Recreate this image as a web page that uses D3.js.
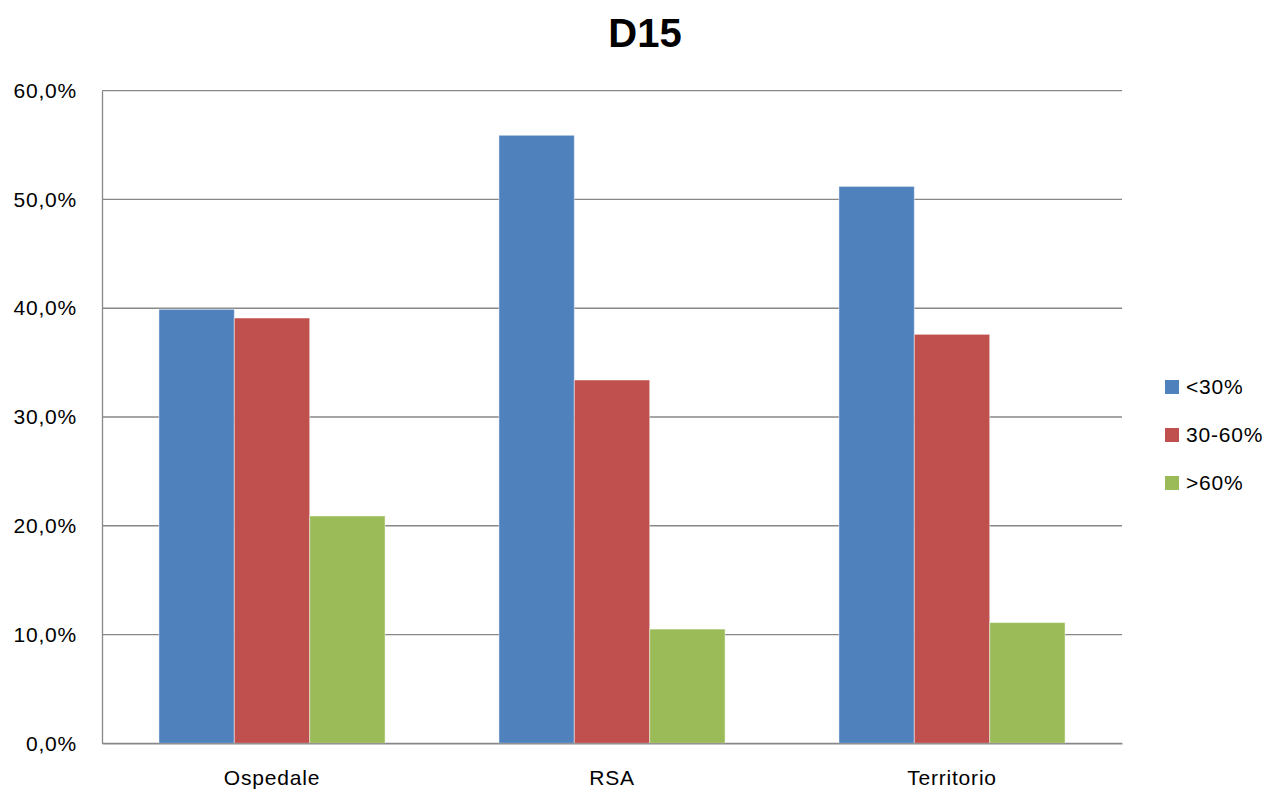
<!DOCTYPE html>
<html><head><meta charset="utf-8">
<script src="https://cdn.jsdelivr.net/npm/d3@7"></script>
<style>body{margin:0;background:#fff}svg{display:block}text{font-family:"Liberation Sans",Arial,sans-serif}</style>
</head><body>
<svg id="chart" width="1272" height="791"></svg>
<script>
const title = "D15";
const categories = ["Ospedale", "RSA", "Territorio"];
const seriesNames = ["<30%", "30-60%", ">60%"];
const seriesColors = ["#4F81BD", "#C0504D", "#9BBB59"];
const lt30 = [39.9, 55.9, 51.2];
const mid3060 = [39.1, 33.4, 37.6];
const gt60 = [20.9, 10.5, 11.1];
const yTicks = [0, 10, 20, 30, 40, 50, 60];
const seriesValues = [lt30, mid3060, gt60];

const svg = d3.select("#chart");
const m = {left: 102, right: 1122, top: 90.7, bottom: 743.3};
const fs = 21, ls = "0.8px";

const x0 = d3.scaleBand().domain(categories).range([m.left, m.right]).paddingInner(0.335).paddingOuter(0.1675);
const x1 = d3.scaleBand().domain(seriesNames).range([0, x0.bandwidth()]);
const y = d3.scaleLinear().domain([0, 60]).range([m.bottom, m.top]);

// gridlines
svg.append("g").selectAll("line").data(yTicks).join("line")
  .attr("x1", m.left).attr("x2", m.right)
  .attr("y1", d => y(d)).attr("y2", d => y(d))
  .attr("stroke", "#878787").attr("stroke-width", 1.3);

// bars
const groups = svg.append("g").selectAll("g").data(categories).join("g")
  .attr("transform", c => `translate(${x0(c)},0)`);
groups.selectAll("rect").data((c, i) => seriesNames.map((s, k) => ({s, k, v: seriesValues[k][i]})))
  .join("rect")
  .attr("x", d => x1(d.s)).attr("width", x1.bandwidth())
  .attr("y", d => y(d.v)).attr("height", d => y(0) - y(d.v))
  .attr("fill", d => seriesColors[d.k])
  .attr("stroke", "rgba(255,255,255,0.45)").attr("stroke-width", 1);

// y axis
const yAxis = d3.axisLeft(y).tickValues(yTicks).tickSize(0).tickPadding(25)
  .tickFormat(d => d3.format(".1f")(d).replace(".", ",") + "%");
const gy = svg.append("g").attr("transform", `translate(${m.left},0)`).call(yAxis);
gy.select(".domain").attr("stroke", "#878787").attr("stroke-width", 1.3);
gy.selectAll("text").attr("font-size", fs).attr("letter-spacing", ls).attr("fill", "#000");

// x axis
const xAxis = d3.axisBottom(x0).tickSize(0).tickPadding(27);
const gx = svg.append("g").attr("transform", `translate(0,${m.bottom})`).call(xAxis);
gx.select(".domain").attr("stroke", "#878787").attr("stroke-width", 1.3);
gx.selectAll("text").attr("font-size", fs).attr("letter-spacing", ls).attr("fill", "#000");

// title
svg.append("text").attr("x", 645).attr("y", 47).attr("text-anchor", "middle")
  .attr("font-size", 40).attr("font-weight", "bold").text(title);

// legend
const lg = svg.append("g").selectAll("g").data(seriesNames).join("g")
  .attr("transform", (d, i) => `translate(1165,${387 + i * 48})`);
lg.append("rect").attr("x", 0).attr("y", -7).attr("width", 14).attr("height", 14)
  .attr("fill", (d, i) => seriesColors[i]);
lg.append("text").attr("x", 21).attr("y", 0).attr("dy", "0.35em")
  .attr("font-size", fs).attr("letter-spacing", ls).attr("fill", "#000").text(d => d);
</script>
</body></html>
